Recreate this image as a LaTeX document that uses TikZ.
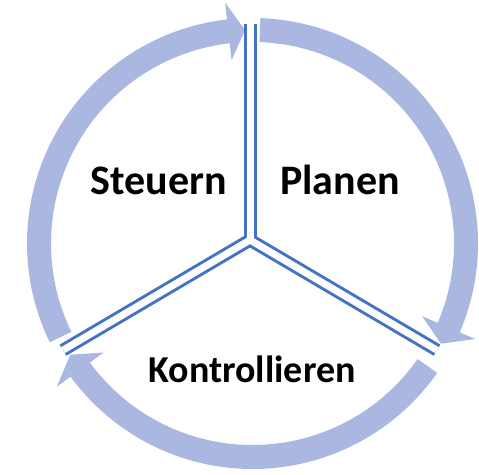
\documentclass[tikz,border=0pt]{standalone}
\usepackage{fontspec}
\setmainfont{Carlito}
\usetikzlibrary{calc}
\definecolor{ringcol}{RGB}{170,183,224}
\definecolor{spokecol}{RGB}{68,114,196}
\newcommand\RingArrow[3]{%
  \fill[ringcol] ([shift={(C)}]#1:225.5) arc[start angle=#1, end angle=#2, radius=225.5]
    -- ([shift={(C)}]#2:242.5) -- ([shift={(C)}]#3:213.5) -- ([shift={(C)}]#2:184.5)
    -- ([shift={(C)}]#2:201.5) arc[start angle=#2, end angle=#1, radius=201.5] -- cycle;}
\begin{document}
\begin{tikzpicture}[x=1pt,y=1pt,
  txtbig/.style={inner sep=0pt, anchor=base, font=\bfseries\fontsize{42}{50}\selectfont},
  txtsmall/.style={inner sep=0pt, anchor=base, font=\bfseries\fontsize{38}{46}\selectfont},
  spokeout/.style={draw=spokecol, line width=13pt, line cap=butt},
  spokein/.style={draw=white, line width=7pt, line cap=butt}]
\useasboundingbox (0,0) rectangle (479,474);
\coordinate (C) at (252.5,230.5);
\RingArrow{206}{96.5}{92}
\RingArrow{88}{-23.2}{-28}
\RingArrow{-35}{-143.8}{-148.6}
\coordinate (O) at (250,234);
\coordinate (T) at ($(O)+(90:216)$);
\coordinate (R) at ($(O)+(-30.5:217)$);
\coordinate (L) at ($(O)+(210.5:217)$);
\draw[spokeout] (O) -- (T);
\draw[spokeout] (O) -- (R);
\draw[spokeout] (O) -- (L);
\draw[spokein] (O) -- (T);
\draw[spokein] (O) -- (R);
\draw[spokein] (O) -- (L);
\node[txtbig] (steuern) at (158.5,279) {Steuern};
\node[txtbig] (planen) at (340,279) {Planen};
\node[txtsmall] (kontr) at (252,92) {Kontrollieren};
\end{tikzpicture}
\end{document}
